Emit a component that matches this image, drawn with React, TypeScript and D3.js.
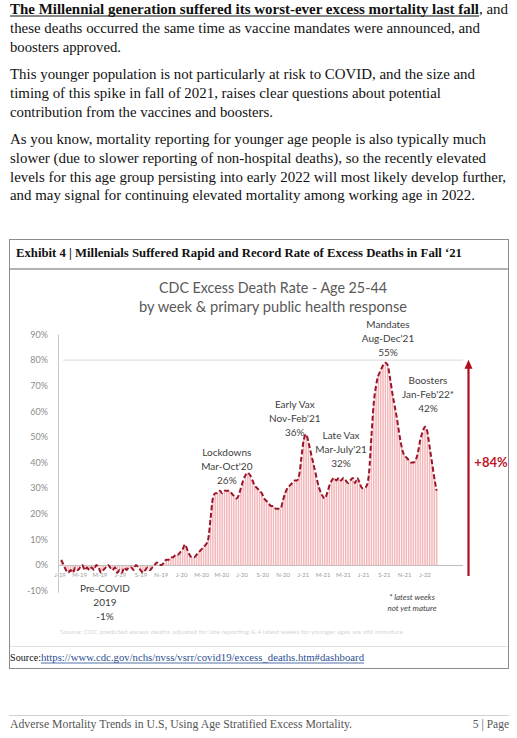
import { useEffect, useRef } from "react";
import * as d3 from "d3";

// weekly excess death rate (%) age 25-44, first week ends Jan 5 2019
const firstWeek = new Date(2019, 0, 5);
const values2019 = [2, 0, -2, -3, -2, -3, -1, -2, -1, 0, -2, -1, -2, -1, -2, 0, -1, -3, -2, -1, 0, -1, -2, -1, -3, -2, -3, -1, -2, -1, -1, -2, 0, -1, -2, -3, -2, -1, -2, -1, 0, 1, 0, 0, 1, 2, 2, 3, 3, 4, 4, 5];
const values2020 = [6, 8, 6, 4, 3, 3, 4, 5, 6, 7, 8, 10, 18, 26, 28, 28, 29, 28, 29, 29, 29, 28, 27, 26, 27, 30, 33, 35, 36, 35, 33, 31, 30, 29, 28, 26, 25, 24, 23, 23, 22, 22, 22, 25, 28, 30, 31, 32, 33, 33, 35, 42];
const values2021 = [49, 51, 48, 44, 40, 36, 32, 29, 27, 26, 28, 31, 33, 34, 33, 34, 33, 34, 33, 32, 33, 34, 32, 34, 32, 30, 30, 31, 36, 50, 63, 70, 74, 76, 78, 79, 78, 73, 67, 62, 57, 51, 46, 43, 42, 41, 40, 40, 41, 44, 49, 52];
const values2022 = [54, 52, 46, 40, 34, 29];

const yTicks = [-10, 0, 10, 20, 30, 40, 50, 60, 70, 80, 90];

const paragraphLines = [
  "these deaths occurred the same time as vaccine mandates were announced, and",
  "boosters approved.",
  "This younger population is not particularly at risk to COVID, and the size and",
  "timing of this spike in fall of 2021, raises clear questions about potential",
  "contribution from the vaccines and boosters.",
  "As you know, mortality reporting for younger age people is also typically much",
  "slower (due to slower reporting of non-hospital deaths), so the recently elevated",
  "levels for this age group persisting into early 2022 will most likely develop further,",
  "and may signal for continuing elevated mortality among working age in 2022.",
];
const paragraphWidths = [470, 111, 465, 431, 263, 476, 476, 496, 465];
const paragraphBaselines = [33, 52, 79, 98, 117, 144, 163, 182, 200];

// callouts anchored in data space (date, value of top line)
const callouts = [
  { lines: ["Mandates", "Aug-Dec'21", "55%"], date: new Date(2021, 8, 12), value: 94 },
  { lines: ["Boosters", "Jan-Feb'22*", "42%"], date: new Date(2022, 0, 10), value: 72 },
  { lines: ["Early Vax", "Nov-Feb'21", "36%"], date: new Date(2020, 11, 6), value: 62.5 },
  { lines: ["Late Vax", "Mar-July'21", "32%"], date: new Date(2021, 3, 24), value: 50.5 },
  { lines: ["Lockdowns", "Mar-Oct'20", "26%"], date: new Date(2020, 4, 16), value: 44 },
  { lines: ["Pre-COVID", "2019", "-1%"], date: new Date(2019, 4, 16), value: -9.3 },
];

const App = () => {
  const svgRef = useRef<SVGSVGElement>(null);

  useEffect(() => {
    const svg = d3.select(svgRef.current);
    svg.selectAll("*").remove();

    const serif = "'Liberation Serif', 'Times New Roman', serif";
    const sans = "Lato, 'Open Sans', sans-serif";

    // page text
    svg.append("text")
      .attr("x", 10).attr("y", 14)
      .attr("font-family", serif).attr("font-size", 14.5).attr("font-weight", "bold")
      .attr("textLength", 469).attr("lengthAdjust", "spacingAndGlyphs")
      .attr("fill", "#111")
      .text("The Millennial generation suffered its worst-ever excess mortality last fall");
    svg.append("line").attr("x1", 10).attr("x2", 479).attr("y1", 16).attr("y2", 16)
      .attr("stroke", "#111").attr("stroke-width", 1);
    svg.append("text")
      .attr("x", 479).attr("y", 14)
      .attr("font-family", serif).attr("font-size", 14.5)
      .attr("textLength", 29).attr("lengthAdjust", "spacingAndGlyphs")
      .attr("fill", "#111").text(", and");

    paragraphLines.forEach((line, i) => {
      svg.append("text")
        .attr("x", 10).attr("y", paragraphBaselines[i])
        .attr("font-family", serif).attr("font-size", 14.5)
        .attr("textLength", paragraphWidths[i]).attr("lengthAdjust", "spacingAndGlyphs")
        .attr("fill", "#111").text(line);
    });

    // exhibit box
    svg.append("rect").attr("x", 9.5).attr("y", 239.5).attr("width", 499).attr("height", 429)
      .attr("fill", "#fff").attr("stroke", "#8c8c8c");
    svg.append("text")
      .attr("x", 16).attr("y", 257)
      .attr("font-family", serif).attr("font-size", 12).attr("font-weight", "bold")
      .attr("textLength", 446).attr("lengthAdjust", "spacingAndGlyphs")
      .attr("fill", "#111")
      .text("Exhibit 4 | Millenials Suffered Rapid and Record Rate of Excess Deaths in Fall \u201821");
    svg.append("line").attr("x1", 10).attr("x2", 508).attr("y1", 269).attr("y2", 269)
      .attr("stroke", "#9a9a9a").attr("stroke-width", 1.6);
    svg.append("line").attr("x1", 10).attr("x2", 508).attr("y1", 646.5).attr("y2", 646.5)
      .attr("stroke", "#e0e0e0");

    // chart titles
    svg.append("text").attr("x", 273).attr("y", 293).attr("text-anchor", "middle")
      .attr("font-family", sans).attr("font-size", 15).attr("fill", "#595959")
      .attr("textLength", 228).attr("lengthAdjust", "spacingAndGlyphs")
      .text("CDC Excess Death Rate - Age 25-44");
    svg.append("text").attr("x", 273).attr("y", 312).attr("text-anchor", "middle")
      .attr("font-family", sans).attr("font-size", 14.5).attr("fill", "#595959")
      .attr("textLength", 268).attr("lengthAdjust", "spacingAndGlyphs")
      .text("by week & primary public health response");

    // scales
    const data = [...values2019, ...values2020, ...values2021, ...values2022]
      .map((v, i) => ({ date: d3.timeWeek.offset(firstWeek, i), value: v }));

    const x = d3.scaleTime()
      .domain([new Date(2019, 0, 1), new Date(2022, 0, 1)])
      .range([60, 425]);
    const y = d3.scaleLinear().domain([-10, 90]).range([590.6, 334.5]);

    // y axis labels + axis line
    svg.append("g").selectAll("text")
      .data(yTicks).enter()
      .append("text")
      .attr("x", 48).attr("y", (d) => y(d) + 3.2)
      .attr("text-anchor", "end")
      .attr("font-family", sans).attr("font-size", 9).attr("fill", "#8c8c8c")
      .text((d) => d + "%");
    svg.append("line").attr("x1", 58.5).attr("x2", 58.5).attr("y1", y(90)).attr("y2", y(-10) + 2)
      .attr("stroke", "#c8c8c8");
    svg.append("line").attr("x1", 63).attr("x2", 463).attr("y1", y(80)).attr("y2", y(80))
      .attr("stroke", "#d9d9d9");

    // bars
    const barW = 1.5;
    svg.append("g").selectAll("rect")
      .data(data).enter()
      .append("rect")
      .attr("x", (d) => x(d.date) - barW / 2)
      .attr("width", barW)
      .attr("y", (d) => Math.min(y(d.value), y(0)))
      .attr("height", (d) => Math.abs(y(d.value) - y(0)))
      .attr("fill", "#f3b7ba");

    // x axis
    svg.append("line").attr("x1", 58.5).attr("x2", 463).attr("y1", y(0) + 0.5).attr("y2", y(0) + 0.5)
      .attr("stroke", "#bfbfbf");
    const monthTicks = d3.timeMonth.every(2)!.range(new Date(2019, 0, 1), new Date(2022, 0, 2));
    const fmt = (d: Date) => d3.timeFormat("%b")(d)[0] + "-" + d3.timeFormat("%y")(d);
    svg.append("g").selectAll("text")
      .data(monthTicks).enter()
      .append("text")
      .attr("x", (d) => x(d)).attr("y", y(0) + 12)
      .attr("text-anchor", "middle")
      .attr("font-family", sans).attr("font-size", 6).attr("fill", "#9a9a9a")
      .text(fmt);

    // dashed trend line
    const line = d3.line<{ date: Date; value: number }>()
      .x((d) => x(d.date))
      .y((d) => y(d.value))
      .curve(d3.curveMonotoneX);
    svg.append("path").datum(data)
      .attr("d", line)
      .attr("fill", "none")
      .attr("stroke", "#9b1428")
      .attr("stroke-width", 2)
      .attr("stroke-dasharray", "5 2.5");

    // callouts
    callouts.forEach((c) => {
      const t = svg.append("text")
        .attr("x", x(c.date)).attr("y", y(c.value))
        .attr("text-anchor", "middle")
        .attr("font-family", sans).attr("font-size", 10).attr("fill", "#404040");
      c.lines.forEach((l, i) => {
        t.append("tspan").attr("x", x(c.date)).attr("dy", i === 0 ? 3.5 : 14).text(l);
      });
    });

    // latest weeks note
    const note = svg.append("text")
      .attr("x", x(new Date(2021, 10, 23))).attr("y", y(-12.5) + 3)
      .attr("text-anchor", "middle")
      .attr("font-family", sans).attr("font-size", 8).attr("font-style", "italic")
      .attr("fill", "#404040");
    note.append("tspan").attr("x", x(new Date(2021, 10, 23))).text("* latest weeks");
    note.append("tspan").attr("x", x(new Date(2021, 10, 23))).attr("dy", 11).text("not yet mature");

    // +84% arrow
    const ax = 468.5;
    svg.append("line").attr("x1", ax).attr("x2", ax).attr("y1", 576).attr("y2", y(79) + 4)
      .attr("stroke", "#b00d1f").attr("stroke-width", 2.2);
    svg.append("path")
      .attr("d", `M${ax - 4},${y(79) + 6} L${ax},${y(79) - 3} L${ax + 4},${y(79) + 6} Z`)
      .attr("fill", "#b00d1f");
    svg.append("text").attr("x", 491).attr("y", 467).attr("text-anchor", "middle")
      .attr("font-family", sans).attr("font-size", 13).attr("font-weight", "bold")
      .attr("fill", "#c0182b").text("+84%");

    // faint chart footnote
    svg.append("text").attr("x", 60).attr("y", 634)
      .attr("font-family", sans).attr("font-size", 5)
      .attr("textLength", 343).attr("lengthAdjust", "spacingAndGlyphs")
      .attr("fill", "#d6d6d6")
      .text("Source: CDC predicted excess deaths adjusted for late reporting & 4 latest weeks for younger ages are still immature");

    // source line
    svg.append("text").attr("x", 10).attr("y", 661)
      .attr("font-family", serif).attr("font-size", 11)
      .attr("textLength", 31).attr("lengthAdjust", "spacingAndGlyphs")
      .attr("fill", "#111").text("Source:");
    svg.append("text").attr("x", 41).attr("y", 661)
      .attr("font-family", serif).attr("font-size", 11)
      .attr("textLength", 323).attr("lengthAdjust", "spacingAndGlyphs")
      .attr("fill", "#2a4f8f")
      .text("https://www.cdc.gov/nchs/nvss/vsrr/covid19/excess_deaths.htm#dashboard");
    svg.append("line").attr("x1", 41).attr("x2", 364).attr("y1", 663).attr("y2", 663)
      .attr("stroke", "#2a4f8f").attr("stroke-width", 0.8);

    // page footer
    svg.append("line").attr("x1", 9).attr("x2", 509).attr("y1", 715.5).attr("y2", 715.5)
      .attr("stroke", "#d0d0d0");
    svg.append("text").attr("x", 10).attr("y", 728)
      .attr("font-family", serif).attr("font-size", 11.5)
      .attr("textLength", 342).attr("lengthAdjust", "spacingAndGlyphs")
      .attr("fill", "#555")
      .text("Adverse Mortality Trends in U.S, Using Age Stratified Excess Mortality.");
    svg.append("text").attr("x", 509).attr("y", 728).attr("text-anchor", "end")
      .attr("font-family", serif).attr("font-size", 11.5)
      .attr("fill", "#555").text("5 | Page");
  }, []);

  return (
    <svg
      ref={svgRef}
      width={517}
      height={738}
      style={{ position: "absolute", left: 0, top: 0, background: "#fff" }}
    ></svg>
  );
};

export default App;
